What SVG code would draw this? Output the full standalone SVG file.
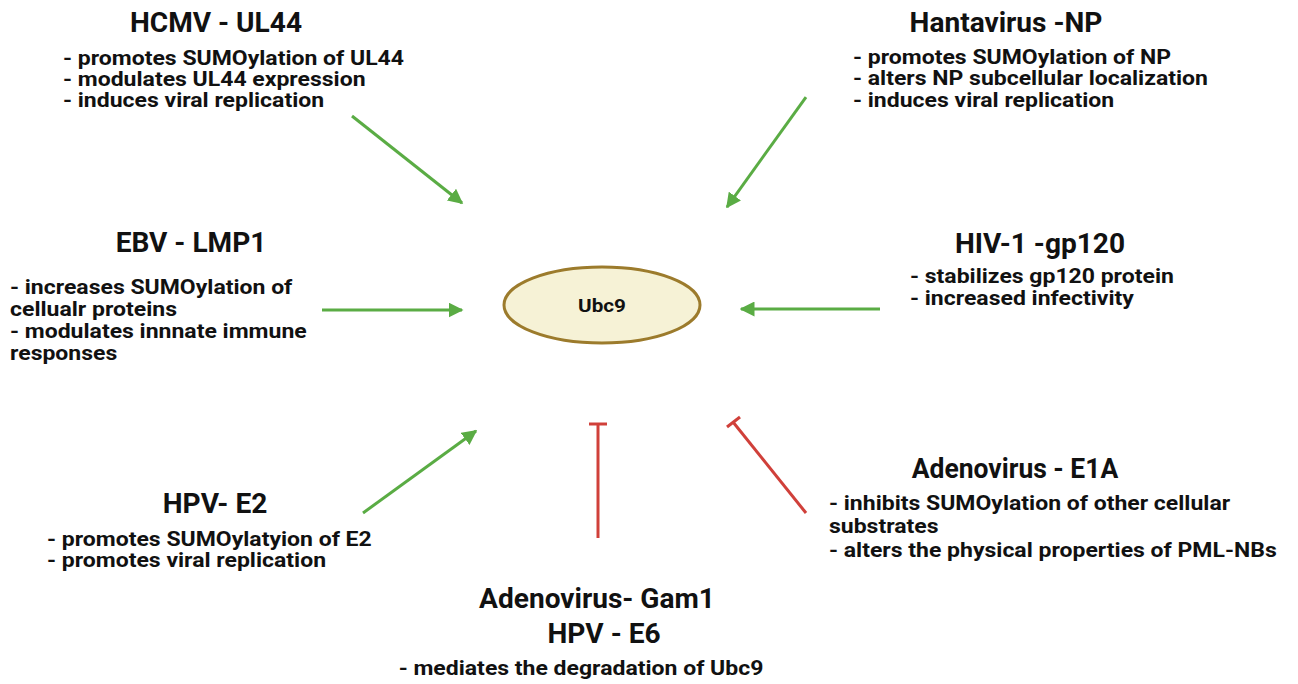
<svg xmlns="http://www.w3.org/2000/svg" width="1298" height="684" viewBox="0 0 1298 684">
<defs>
<style>
.t{font-family:Roboto,"Liberation Sans",sans-serif;font-weight:700;fill:#111;font-size:27px;text-anchor:middle}
.b{font-family:Roboto,"Liberation Sans",sans-serif;font-weight:700;fill:#111;font-size:20px}
.g{stroke:#5aac44;stroke-width:3;fill:none;marker-end:url(#ah)}
.r{stroke:#d0403a;stroke-width:3;fill:none}
</style>
<marker id="ah" viewBox="0 0 10 10" refX="9" refY="5" markerWidth="5" markerHeight="5" orient="auto" markerUnits="strokeWidth">
<path d="M0,0 L10,5 L0,10 z" fill="#5aac44"/>
</marker>
</defs>
<rect width="1298" height="684" fill="#fff"/>
<g id="connectors">
<line class="g" x1="352" y1="116" x2="462" y2="203"/>
<line class="g" x1="806" y1="97" x2="727" y2="207"/>
<line class="g" x1="322" y1="310" x2="462" y2="310"/>
<line class="g" x1="880" y1="309" x2="741" y2="309"/>
<line class="g" x1="363" y1="513" x2="476" y2="431"/>
<line class="r" x1="598" y1="538" x2="598" y2="424"/>
<line class="r" x1="589" y1="424" x2="607" y2="424"/>
<line class="r" x1="806" y1="513" x2="733" y2="422"/>
<line class="r" x1="727" y1="427" x2="740" y2="417"/>
</g>
<g id="ubc9">
<ellipse cx="602" cy="305" rx="98" ry="38" fill="#f6f2d6" stroke="#9c7b2c" stroke-width="3"/>
<text class="t" transform="translate(602,312) scale(1.15,1)" style="font-size:18px">Ubc9</text>
</g>
<g id="hcmv">
<text class="t" transform="translate(216,32) scale(1.04,1)">HCMV - UL44</text>
<g transform="translate(63,0) scale(1.15,1)">
<text class="b" y="65">- promotes SUMOylation of UL44</text>
<text class="b" y="86">- modulates UL44 expression</text>
<text class="b" y="107">- induces viral replication</text>
</g>
</g>
<g id="hantavirus">
<text class="t" transform="translate(1006,32) scale(1.04,1)">Hantavirus -NP</text>
<g transform="translate(853,0) scale(1.15,1)">
<text class="b" y="64">- promotes SUMOylation of NP</text>
<text class="b" y="85">- alters NP subcellular localization</text>
<text class="b" y="107">- induces viral replication</text>
</g>
</g>
<g id="ebv">
<text class="t" transform="translate(191,252) scale(1.04,1)">EBV - LMP1</text>
<g transform="translate(10,0) scale(1.15,1)">
<text class="b" y="294">- increases SUMOylation of</text>
<text class="b" y="316">cellualr proteins</text>
<text class="b" y="338">- modulates innnate immune</text>
<text class="b" y="360">responses</text>
</g>
</g>
<g id="hiv">
<text class="t" transform="translate(1040,253) scale(1.04,1)">HIV-1 -gp120</text>
<g transform="translate(910,0) scale(1.15,1)">
<text class="b" y="283">- stabilizes gp120 protein</text>
<text class="b" y="305">- increased infectivity</text>
</g>
</g>
<g id="hpv-e2">
<text class="t" transform="translate(215,513) scale(1.04,1)">HPV- E2</text>
<g transform="translate(47,0) scale(1.15,1)">
<text class="b" y="546">- promotes SUMOylatyion of E2</text>
<text class="b" y="567">- promotes viral replication</text>
</g>
</g>
<g id="e1a">
<text class="t" transform="translate(1015,478) scale(0.98,1)">Adenovirus - E1A</text>
<g transform="translate(829,0) scale(1.15,1)">
<text class="b" y="510">- inhibits SUMOylation of other cellular</text>
<text class="b" y="533">substrates</text>
<text class="b" y="557">- alters the physical properties of PML-NBs</text>
</g>
</g>
<g id="gam1">
<text class="t" transform="translate(597,608) scale(1.04,1)">Adenovirus- Gam1</text>
<text class="t" transform="translate(604,643) scale(1.04,1)">HPV - E6</text>
<text class="t" transform="translate(581,675) scale(1.15,1)" style="font-size:20px">- mediates the degradation of Ubc9</text>
</g>
</svg>
